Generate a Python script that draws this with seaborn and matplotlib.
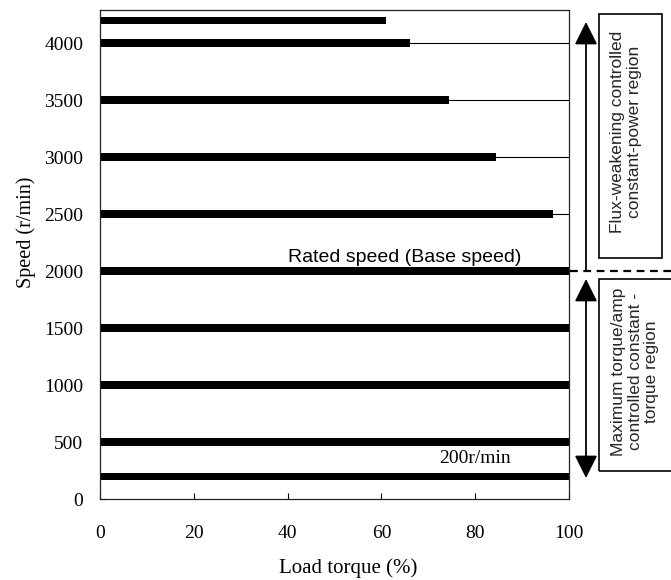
import matplotlib
matplotlib.use("Agg")
import matplotlib.pyplot as plt
from matplotlib.lines import Line2D
from matplotlib.patches import Rectangle
import seaborn as sns
import pandas as pd

# Operating points of the drive: speed (r/min) and available load torque (%)
speed = [200, 500, 1000, 1500, 2000, 2500, 3000, 3500, 4000, 4200]
torque = [100, 100, 100, 100, 100, 96.5, 84.5, 74.5, 66, 61]
# Speeds where the 100 % torque reference line is shown
reference_speeds = [2500, 3000, 3500, 4000]
x_ticks = [0, 20, 40, 60, 80, 100]
y_ticks = [0, 500, 1000, 1500, 2000, 2500, 3000, 3500, 4000]

df = pd.DataFrame({"speed": speed, "torque": torque})

sns.set_theme(style="white")
plt.rcParams["font.family"] = ["Liberation Serif", "DejaVu Serif"]
sans = ["Liberation Sans", "DejaVu Sans"]

W, H = 671, 580
fig = plt.figure(figsize=(W / 100, H / 100), dpi=100)
ax = fig.add_axes([100 / W, 1 - 499 / H, 469 / W, 489 / H])

# thin 100 % reference lines in the constant-power range
ax.hlines(reference_speeds, 0, 100, color="black", lw=0.8, zorder=1)

sns.barplot(data=df, x="torque", y="speed", orient="h", native_scale=True,
            width=0.32, color="black", linewidth=0, errorbar=None,
            saturation=1, ax=ax, zorder=2)
for p in ax.patches:
    p.set_clip_on(False)

ax.set_xlim(0, 100)
ax.set_ylim(0, 4290)
ax.set_xticks(x_ticks)
ax.set_yticks(y_ticks)
ax.set_xticklabels([str(v) for v in x_ticks])
ax.set_yticklabels([str(v) for v in y_ticks])
ax.tick_params(axis="x", direction="in", length=4, width=0.8, pad=19,
               labelsize=14, colors="black", bottom=True)
ax.tick_params(axis="y", direction="in", length=4, width=0.8, pad=12,
               labelsize=14, colors="black", left=True)
ax.grid(False)
for s in ax.spines.values():
    s.set_visible(True)
    s.set_color("#222222")
    s.set_linewidth(0.9)

ax.set_xlabel("Load torque (%)", fontsize=15, color="black")
ax.set_ylabel("Speed (r/min)", fontsize=14.5, color="black")
ax.xaxis.set_label_coords(0.53, -0.122)
ax.yaxis.set_label_coords(-0.136, 0.546)

# in-plot labels
ax.text(65, 2075, "Rated speed (Base speed)", ha="center", va="baseline",
        fontsize=14, family=sans, color="black")
ax.text(80, 315, "200r/min", ha="center", va="baseline", fontsize=14,
        color="black")


def fx(px):
    return px / W


def fy(py):
    return 1 - py / H


# base-speed boundary
fig.add_artist(Line2D([fx(570), fx(671)], [fy(271), fy(271)], color="black",
                      lw=1.6, ls=(0, (3.5, 2.5))))

# region arrows
ax.annotate("", xy=(fx(586), fy(22)), xytext=(fx(586), fy(270)),
            xycoords="figure fraction", textcoords="figure fraction",
            arrowprops=dict(arrowstyle="-|>,head_length=0.7,head_width=0.35",
                            mutation_scale=20, color="black", lw=1.3,
                            shrinkA=0, shrinkB=0))
ax.annotate("", xy=(fx(586), fy(279)), xytext=(fx(586), fy(478)),
            xycoords="figure fraction", textcoords="figure fraction",
            arrowprops=dict(arrowstyle="<|-|>,head_length=0.7,head_width=0.35",
                            mutation_scale=20, color="black", lw=1.3,
                            shrinkA=0, shrinkB=0))

# region boxes
fig.add_artist(Rectangle((fx(599), fy(258)), fx(662) - fx(599), fy(14) - fy(258),
                         transform=fig.transFigure, fill=False,
                         edgecolor="black", lw=1.2))
fig.add_artist(Rectangle((fx(599), fy(471)), fx(680) - fx(599), fy(279) - fy(471),
                         transform=fig.transFigure, fill=False,
                         edgecolor="black", lw=1.2))
fig.text(fx(626), fy(132), "Flux-weakening controlled\nconstant-power region",
         rotation=90, ha="center", va="center", fontsize=12.5, family=sans,
         linespacing=1.1, multialignment="center")
fig.text(fx(635), fy(372), "Maximum torque/amp\ncontrolled constant -\ntorque region",
         rotation=90, ha="center", va="center", fontsize=12.5, family=sans,
         linespacing=1.15, multialignment="center")

fig.savefig("out.png", dpi=100)
